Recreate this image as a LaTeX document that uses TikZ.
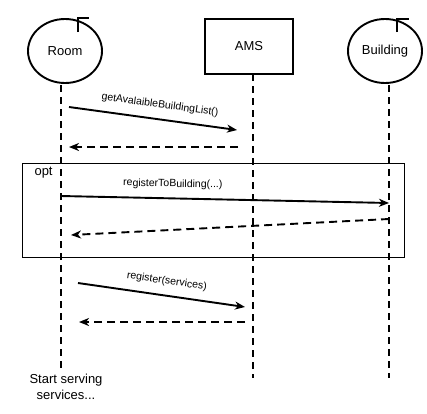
\documentclass[tikz,border=0pt]{standalone}
\usepackage{fontspec}
\setmainfont{Liberation Sans}
\usetikzlibrary{shapes.geometric,arrows.meta}

\tikzset{
    actor/.style={ellipse,draw,line width=1.9pt,minimum width=74pt,minimum height=64pt,inner sep=0pt,font=\fontsize{13}{16}\selectfont},
    sysbox/.style={rectangle,draw,line width=1.9pt,minimum width=88pt,minimum height=55pt,font=\fontsize{13}{16}\selectfont},
    lifeline/.style={line width=1.9pt,dash pattern=on 7pt off 5pt},
    msg/.style={line width=1.9pt,-{Stealth[length=10pt,width=8pt,inset=3pt]}},
    reply/.style={msg,dash pattern=on 8pt off 5pt},
    msglabel/.style={font=\fontsize{10.5}{12}\selectfont,sloped,above=5pt},
}

\begin{document}
\begin{tikzpicture}[x=1pt,y=-1pt]
    \useasboundingbox (0,0) rectangle (427,413);

    % Participants
    \node[actor] (room) at (65,51) {Room};
    \node[sysbox] (ams) at (249,46.5) {AMS};
    \node[actor] (building) at (385,51) {Building};
    \draw[line width=1.9pt] (78,32) -- (78,18) -- (89,18);
    \draw[line width=1.9pt] (397,32) -- (397,19) -- (409,19);

    % Lifelines
    \coordinate (roomtop) at (61,85);
    \coordinate (roomend) at (61,372);
    \coordinate (amstop) at (253,74);
    \coordinate (amsend) at (253,378);
    \coordinate (bldtop) at (389,85);
    \coordinate (bldend) at (389,378);
    \draw[lifeline] (roomtop) -- (roomend);
    \draw[lifeline] (amstop) -- (amsend);
    \draw[lifeline] (bldtop) -- (bldend);

    % Building list request
    \coordinate (m1a) at (69,107);
    \coordinate (m1b) at (237,130);
    \coordinate (r1a) at (238,147);
    \coordinate (r1b) at (69,147);
    \draw[msg] (m1a) -- (m1b) node[msglabel,pos=0.53] (l1) {getAvalaibleBuildingList()};
    \draw[reply] (r1a) -- (r1b);

    % Optional registration frame
    \draw[line width=1pt] (22,163) rectangle (404,257);
    \node[anchor=west,font=\fontsize{13}{16}\selectfont] (opt) at (31,173) {opt};
    \coordinate (m2a) at (61,196);
    \coordinate (m2b) at (389,203);
    \coordinate (r2a) at (389,219);
    \coordinate (r2b) at (71,235);
    \draw[msg] (m2a) -- (m2b) node[msglabel,pos=0.34] (l2) {registerToBuilding(...)};
    \draw[reply] (r2a) -- (r2b);

    % Service registration
    \coordinate (m3a) at (78,283);
    \coordinate (m3b) at (245,307);
    \coordinate (r3a) at (245,322);
    \coordinate (r3b) at (79,322);
    \draw[msg] (m3a) -- (m3b) node[msglabel,pos=0.52] (l3) {register(services)};
    \draw[reply] (r3a) -- (r3b);

    \node[align=center,font=\fontsize{13}{16}\selectfont] (start) at (66,387) {Start serving\\services...};
\end{tikzpicture}
\end{document}
